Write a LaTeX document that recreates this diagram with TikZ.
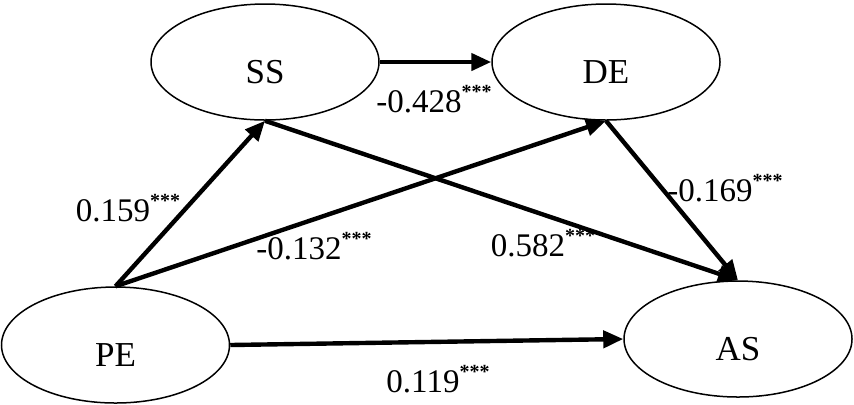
\documentclass[tikz,border=0pt]{standalone}
\usepackage{fontspec}
\setmainfont{Liberation Serif}
\usetikzlibrary{arrows.meta, shapes.geometric}
\newcommand{\sig}{\raisebox{0.42em}{\fontsize{10}{10}\selectfont\bfseries***}}

\begin{document}
\begin{tikzpicture}[
  x=0.5pt, y=-0.5pt,
  font=\fontsize{16.5}{20}\selectfont,
  latent/.style={draw=black, ellipse, line width=0.75pt, minimum width=114pt,
                 minimum height=58pt, inner sep=0pt, text height=21pt, text depth=0pt,
                 font=\fontsize{17.5}{20}\selectfont},
  lbl/.style={inner sep=0pt},
  flow/.style={-{Triangle[length=10pt,width=8.5pt]}, line width=2.2pt}
]
\useasboundingbox (0,0) rectangle (854,404);
\node[latent] (ss) at (265,62)    {SS};
\node[latent] (de) at (606,62)    {DE};
\node[latent] (pe) at (115.5,345) {PE};
\node[latent] (as) at (738,339)   {AS};
\draw[flow] (ss.east)  -- (de.west);
\draw[flow] (pe.north) -- (ss.south);
\draw[flow] (pe.north) -- (de.south);
\draw[flow] (ss.south) -- (as.north);
\draw[flow] (de.south) -- (as.north);
\draw[flow] (pe.east)  -- (as.west);
% path coefficients
\node[lbl] (w-ssde) at (434,99)  {-0.428\sig};
\node[lbl] (w-pess) at (128,208) {0.159\sig};
\node[lbl] (w-pede) at (314,246) {-0.132\sig};
\node[lbl] (w-ssas) at (543,243) {0.582\sig};
\node[lbl] (w-deas) at (725,188) {-0.169\sig};
\node[lbl] (w-peas) at (438,379) {0.119\sig};
\end{tikzpicture}
\end{document}
